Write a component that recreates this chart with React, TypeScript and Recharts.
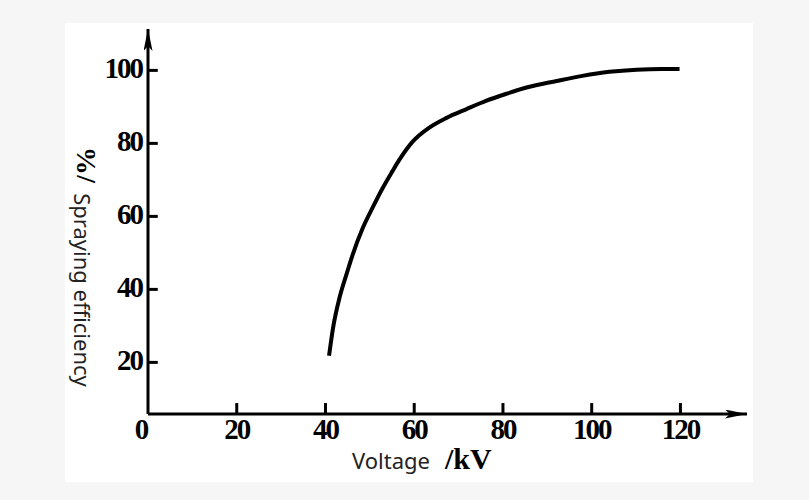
import React from 'react';
import { LineChart, Line, XAxis, YAxis, Label, ReferenceLine } from 'recharts';

// curve (voltage in kV, efficiency in %)
const voltage = [40.8, 41.7, 43.2, 44.8, 46.1, 48.4, 50.7, 52.9, 55.1, 56.7, 59.6, 63.5, 67.3, 71.8, 76.3, 80.8, 85.3, 92.1, 97.9, 104, 110.1, 115.9, 119.8];
const efficiency = [21.8, 29.4, 37.9, 44.4, 49.4, 56.8, 62.6, 67.8, 72.4, 75.6, 80.4, 84.4, 87, 89.4, 91.7, 93.6, 95.3, 97.1, 98.5, 99.6, 100.2, 100.4, 100.4];

const xTicks = [0, 20, 40, 60, 80, 100, 120];
const yTicks = [20, 40, 60, 80, 100];

const X_MIN = 0;
const X_MAX = 135;
const Y_MIN = 5.86;
const Y_MAX = 111.34;

const data = voltage.map((v, i) => ({ v, eff: efficiency[i] }));

const labelFont = {
  fontFamily: '"Liberation Serif", serif',
  fontWeight: 'bold' as const,
  fontSize: 29,
  letterSpacing: -2,
  fill: '#000',
};

const XTick = (props: any) => {
  const { x, y, payload } = props;
  const dx = payload.value === 0 ? -7 : 0;
  return (
    <text x={x + dx} y={y + 19} textAnchor="middle" {...labelFont}>{payload.value}</text>
  );
};

const YTick = (props: any) => {
  const { x, y, payload } = props;
  return (
    <text x={x} y={y + 8} textAnchor="end" {...labelFont}>{payload.value}</text>
  );
};

const XTitle = () => (
  <g>
    <text x={352} y={469} fontFamily='"Noto Sans", sans-serif' fontSize={22} fill="#222">Voltage</text>
    <text x={445} y={469} fontFamily='"Liberation Serif", serif' fontWeight="bold" fontSize={30} fill="#000">/kV</text>
  </g>
);

const YTitle = () => (
  <g>
    <text x={83} y={290} transform="rotate(90, 83, 290)" textAnchor="middle" dominantBaseline="central"
      fontFamily='"Noto Sans", sans-serif' fontSize={22} fill="#222">Spraying efficiency</text>
    <text x={85} y={165} transform="rotate(-90, 85, 165)" textAnchor="middle" dominantBaseline="central"
      fontFamily='"Liberation Serif", serif' fontWeight="bold" fontSize={28} fill="#000">/%</text>
  </g>
);

const App = () => {
  return (
    <div style={{ position: 'fixed', left: 0, top: 0, width: 809, height: 500, background: '#f6f6f6' }}>
      <div style={{ position: 'absolute', left: 65, top: 23, width: 688, height: 459, background: '#fff' }} />
      <div style={{ position: 'absolute', left: 0, top: 0 }}>
        <LineChart width={809} height={500} data={data} margin={{ top: 29, right: 62, left: 88, bottom: 56 }}>
          <defs>
            <marker id="arrow" markerUnits="userSpaceOnUse" markerWidth={24} markerHeight={10}
              refX={22} refY={4.5} orient="auto-start-reverse">
              <path d="M0,0 L22,4.5 L0,9 L5,4.5 z" fill="#000" />
            </marker>
          </defs>
          <XAxis
            type="number"
            dataKey="v"
            domain={[X_MIN, X_MAX]}
            ticks={xTicks}
            allowDataOverflow
            height={30}
            tickSize={0}
            tickMargin={6}
            tickLine={false}
            tick={<XTick />}
            axisLine={{ stroke: '#000', strokeWidth: 3, markerEnd: 'url(#arrow)' }}
          >
            <Label content={<XTitle />} />
          </XAxis>
          <YAxis
            type="number"
            domain={[Y_MIN, Y_MAX]}
            ticks={yTicks}
            allowDataOverflow
            width={60}
            tickSize={0}
            tickMargin={6}
            tickLine={false}
            tick={<YTick />}
            axisLine={{ stroke: '#000', strokeWidth: 3, markerStart: 'url(#arrow)' }}
          >
            <Label content={<YTitle />} />
          </YAxis>
          {/* inward tick marks, as in the scan */}
          {xTicks.filter(t => t > 0).map(t => (
            <ReferenceLine key={`xt-${t}`} segment={[{ x: t, y: Y_MIN }, { x: t, y: Y_MIN + 3 }]}
              stroke="#000" strokeWidth={3} ifOverflow="visible" />
          ))}
          {yTicks.map(t => (
            <ReferenceLine key={`yt-${t}`} segment={[{ x: X_MIN, y: t }, { x: X_MIN + 2.2, y: t }]}
              stroke="#000" strokeWidth={3} ifOverflow="visible" />
          ))}
          <Line
            type="monotone"
            dataKey="eff"
            stroke="#000"
            strokeWidth={4}
            dot={false}
            activeDot={false}
            isAnimationActive={false}
          />
        </LineChart>
      </div>
    </div>
  );
};

export default App;
